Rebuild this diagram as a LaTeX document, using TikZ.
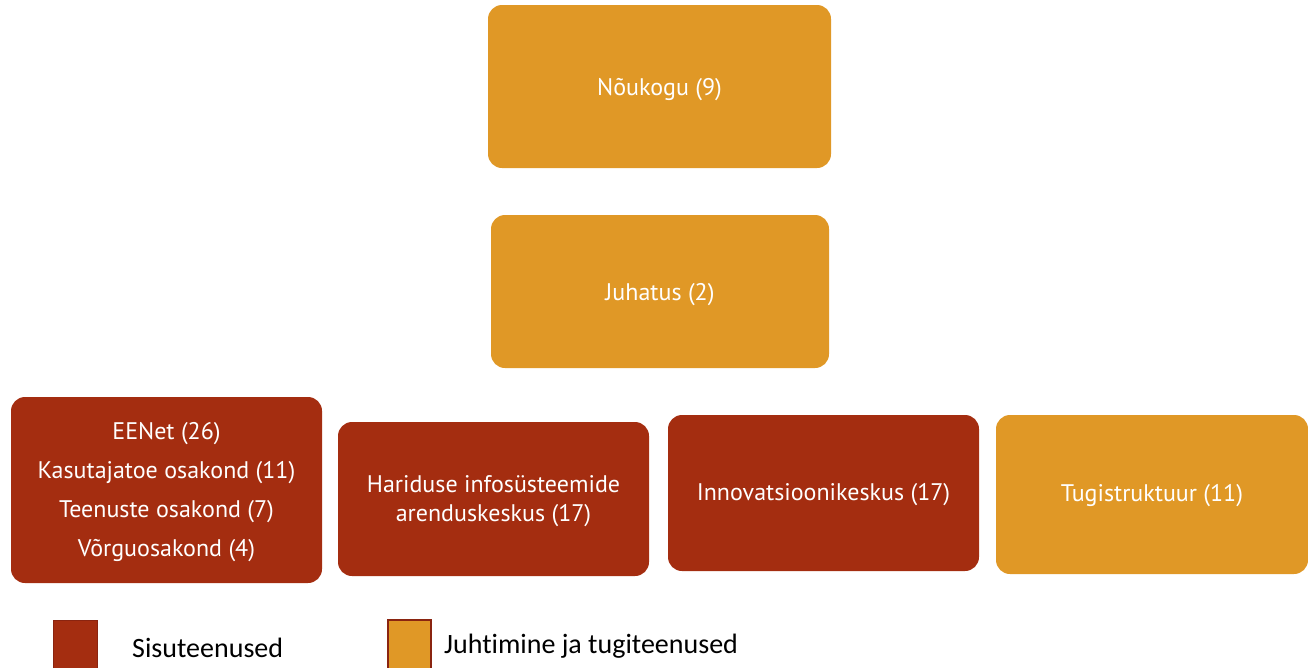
\documentclass[tikz,border=0pt]{standalone}
\usepackage{fontspec}
\setmainfont{PT Sans}
\newfontfamily\legendfont[Ligatures=NoCommon]{Carlito}
\definecolor{orng}{HTML}{E09826}
\definecolor{rust}{HTML}{A42D10}
\definecolor{rustdark}{HTML}{8A2410}
\begin{document}
\begin{tikzpicture}[x=1pt,y=-1pt,
  unit/.style={rounded corners=14pt, text=white, font=\fontsize{24}{39}\selectfont, align=center, inner sep=0pt},
  lgd/.style={font=\legendfont\fontsize{28}{32}\selectfont, anchor=west, inner sep=0pt}]
\useasboundingbox (0,0) rectangle (1308,667);
% boxes
\fill[orng, rounded corners=14pt] (488,5) rectangle (831,168);
\node[unit] (noukogu) at (659.5,90) {Nõukogu (9)};
\fill[orng, rounded corners=14pt] (491,215) rectangle (829,368);
\node[unit] (juhatus) at (660,295) {Juhatus (2)};
\fill[rust, rounded corners=14pt] (11,397) rectangle (322,583);
\node[unit] (eenet) at (166.5,492) {EENet (26)\\Kasutajatoe osakond (11)\\Teenuste osakond (7)\\Võrguosakond (4)};
\fill[rust, rounded corners=14pt] (338,422) rectangle (649,576);
\node[unit, font=\fontsize{24}{29}\selectfont] (haridus) at (493.5,501) {Hariduse infosüsteemide\\arenduskeskus (17)};
\fill[rust, rounded corners=14pt] (668,415) rectangle (979,571);
\node[unit] (innov) at (823.5,495) {Innovatsioonikeskus (17)};
\fill[orng, rounded corners=14pt] (996,415) rectangle (1308,574);
\node[unit] (tugi) at (1152,496) {Tugistruktuur (11)};
% legend
\filldraw[fill=rust, draw=rustdark, line width=1pt] (53,620) rectangle (97,670);
\node[lgd] (l1) at (132,648) {Sisuteenused};
\filldraw[fill=orng, draw=rustdark, line width=1.5pt] (388,620) rectangle (431,670);
\node[lgd] (l2) at (444,646) {Juhtimine ja tugiteenused};
\end{tikzpicture}
\end{document}
